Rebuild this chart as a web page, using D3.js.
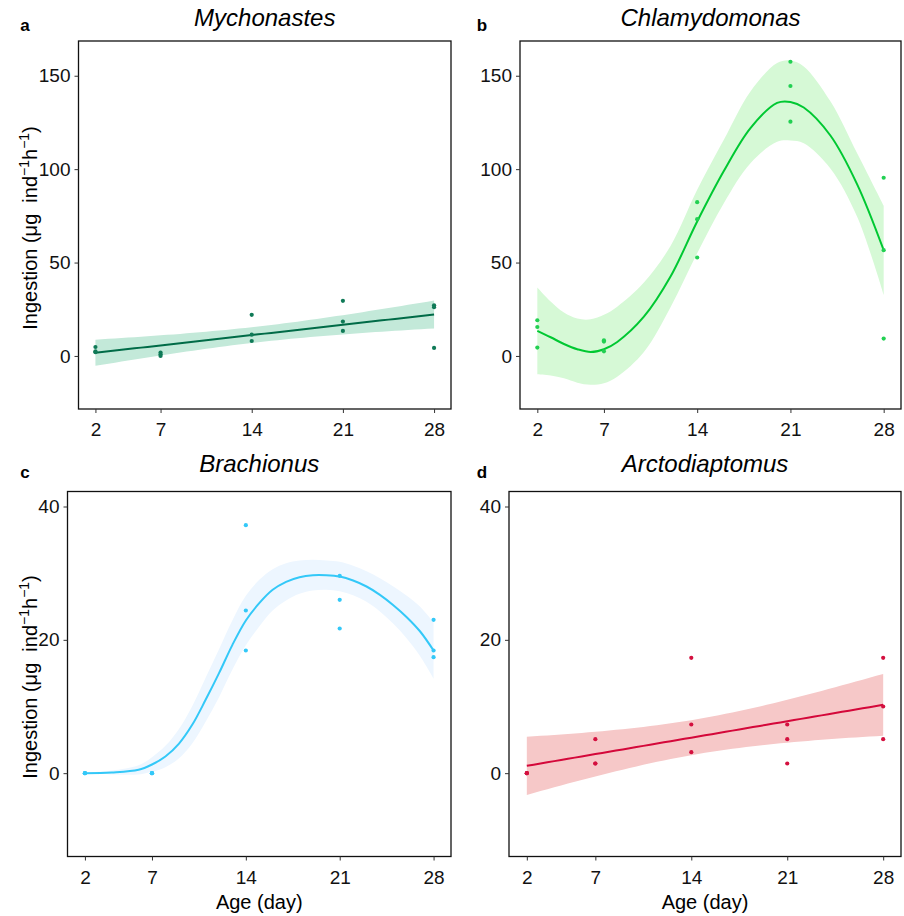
<!DOCTYPE html>
<html>
<head>
<meta charset="utf-8">
<script src="https://cdn.jsdelivr.net/npm/d3@7"></script>
<style>
  body { margin: 0; background: #fff; }
  svg text { font-family: "Liberation Sans", Arial, sans-serif; white-space: pre; }
</style>
</head>
<body>
<svg id="chart" width="904" height="916"></svg>
<script>
// ages sampled
const days = [2, 7, 14, 21, 28];
const xTicks = [2, 7, 14, 21, 28];

// replicate ingestion values per age
const mychonastes = [[4.8, 2.5, 2.0], [1.8, 0.9, 0], [22, 11.4, 8], [29.5, 18.4, 13.4], [27.1, 26.1, 4.3]];
const chlamydomonas = [[19.1, 15.5, 4.5], [8.4, 7.7, 2.5], [82.3, 73.2, 52.7], [157.5, 144.5, 125.4], [95.4, 56.6, 9.3]];
const brachionus = [[0, 0, 0], [0, 0, 0], [37.2, 24.4, 18.4], [29.6, 26, 21.7], [23, 18.4, 17.4]];
const arctodiaptomus = [[0, 0, 0], [5.1, 1.45, 1.45], [17.3, 7.3, 3.15], [7.3, 5.1, 1.45], [17.3, 10, 5.1]];

// smoother curves (loess)
const chlamyX = [2, 3, 4, 5, 6, 7, 8, 10, 12, 14, 16, 18, 20, 21, 22, 24, 26, 28];
const chlamyFit = [13.4, 10, 6.4, 3.6, 2.1, 3.6, 7.5, 21, 42.5, 72, 99, 122, 135.5, 136, 133, 118, 92, 56.6];
const chlamyLo = [-9.8, -10.5, -12, -14.3, -15.4, -14.6, -11.1, 2.1, 26.1, 55, 81.8, 103.2, 114.6, 115.3, 113.9, 100.4, 74.6, 32.7];
const chlamyHi = [36.6, 29.1, 23.2, 20, 19.6, 22, 26.4, 39.3, 58.9, 89, 115.7, 141.6, 156.8, 158.2, 155, 136.3, 108.6, 80.4];

const brachX = [2, 4, 6, 7, 8, 9, 10, 11, 12, 13, 14, 15, 16, 17, 18, 19, 20, 21, 22, 23, 24, 25, 26, 27, 28];
const brachFit = [0, 0.1, 0.5, 1.3, 2.5, 4.4, 7.25, 11, 15, 19.25, 22.9, 25.5, 27.5, 28.7, 29.4, 29.7, 29.7, 29.5, 28.9, 28, 26.75, 25.2, 23.4, 21.25, 18.4];
const brachHalf = [0.1, 0.3, 0.7, 1.1, 1.6, 2.2, 2.8, 3.3, 3.6, 3.7, 3.7, 3.5, 3.1, 2.8, 2.5, 2.3, 2.2, 2.2, 2.2, 2.3, 2.5, 2.8, 3.2, 3.7, 4.2];

const yTicksTop = [0, 50, 100, 150];
const yTicksBottom = [0, 20, 40];

const svg = d3.select("#chart");

const panels = [
  {key: "a", title: "Mychonastes", values: mychonastes, fit: "lm",
   box: [78.5, 41, 451, 409], y: [-28.4, 168.6], yt: yTicksTop, ty: 26, lx: 25, ly: 31,
   line: "#006b47", band: "#c3e9d9", pt: "#0f7a57", ylab: true, xlab: false},
  {key: "b", title: "Chlamydomonas", values: chlamydomonas, fit: "smooth",
   sx: chlamyX, sf: chlamyFit, slo: chlamyLo, shi: chlamyHi,
   box: [520, 41, 901, 409], y: [-28.4, 168.6], yt: yTicksTop, ty: 26, lx: 482, ly: 31,
   line: "#00c832", band: "#d6f9d6", pt: "#22d052", ylab: false, xlab: false},
  {key: "c", title: "Brachionus", values: brachionus, fit: "smooth",
   sx: brachX, sf: brachFit, slo: brachFit.map((v, i) => v - brachHalf[i]), shi: brachFit.map((v, i) => v + brachHalf[i]),
   box: [67.5, 491.5, 451, 856.5], y: [-12.5, 42.25], yt: yTicksBottom, ty: 472, lx: 25, ly: 478,
   line: "#33c8f8", band: "#edf6ff", pt: "#33c8f8", ylab: true, xlab: true},
  {key: "d", title: "Arctodiaptomus", values: arctodiaptomus, fit: "lm",
   box: [509, 491.5, 901, 856.5], y: [-12.5, 42.25], yt: yTicksBottom, ty: 472, lx: 482, ly: 478,
   line: "#d4083a", band: "#f6c8c8", pt: "#d4103f", ylab: false, xlab: true}
];

// ordinary least squares with 95% confidence band
function lmBand(pts) {
  const n = pts.length;
  const mx = d3.mean(pts, d => d.x), my = d3.mean(pts, d => d.y);
  const sxx = d3.sum(pts, d => (d.x - mx) ** 2);
  const b = d3.sum(pts, d => (d.x - mx) * (d.y - my)) / sxx;
  const a = my - b * mx;
  const s = Math.sqrt(d3.sum(pts, d => (d.y - a - b * d.x) ** 2) / (n - 2));
  const t = 2.160; // t(0.975, 13)
  return d3.range(2, 28.001, 0.5).map(x => {
    const f = a + b * x;
    const h = t * s * Math.sqrt(1 / n + (x - mx) ** 2 / sxx);
    return {x: x, f: f, lo: f - h, hi: f + h};
  });
}

panels.forEach(p => {
  const [x0, y0, x1, y1] = p.box;
  const x = d3.scaleLinear().domain([0.7, 29.3]).range([x0, x1]);
  const y = d3.scaleLinear().domain(p.y).range([y1, y0]);
  const g = svg.append("g").attr("id", "chart_" + p.key);

  const pts = [];
  p.values.forEach((vs, i) => vs.forEach(v => pts.push({x: days[i], y: v})));

  let curve;
  if (p.fit === "lm") {
    curve = lmBand(pts);
  } else {
    curve = p.sx.map((xv, i) => ({x: xv, f: p.sf[i], lo: p.slo[i], hi: p.shi[i]}));
  }
  const cv = p.fit === "lm" ? d3.curveLinear : d3.curveCatmullRom;

  g.append("path").datum(curve)
    .attr("fill", p.band).attr("stroke", "none")
    .attr("d", d3.area().curve(cv).x(d => x(d.x)).y0(d => y(d.lo)).y1(d => y(d.hi)));

  g.append("path").datum(curve)
    .attr("fill", "none").attr("stroke", p.line).attr("stroke-width", 2)
    .attr("d", d3.line().curve(cv).x(d => x(d.x)).y(d => y(d.f)));

  g.selectAll("circle").data(pts).enter().append("circle")
    .attr("cx", d => x(d.x)).attr("cy", d => y(d.y)).attr("r", 2.1)
    .attr("fill", p.pt);

  g.append("rect")
    .attr("x", x0).attr("y", y0).attr("width", x1 - x0).attr("height", y1 - y0)
    .attr("fill", "none").attr("stroke", "#111").attr("stroke-width", 1.3);

  const xa = g.append("g").attr("transform", "translate(0," + y1 + ")")
    .call(d3.axisBottom(x).tickValues(xTicks).tickSize(4).tickSizeOuter(0).tickPadding(10));
  const ya = g.append("g").attr("transform", "translate(" + x0 + ",0)")
    .call(d3.axisLeft(y).tickValues(p.yt).tickSize(4).tickSizeOuter(0).tickPadding(4));
  [xa, ya].forEach(ax => {
    ax.select(".domain").remove();
    ax.selectAll(".tick line").attr("stroke", "#333");
    ax.selectAll(".tick text").attr("fill", "#111").style("font-size", "19px");
  });

  g.append("text")
    .attr("x", (x0 + x1) / 2).attr("y", p.ty)
    .attr("text-anchor", "middle").style("font-size", "24px").style("font-style", "italic")
    .text(p.title);

  g.append("text")
    .attr("x", p.lx).attr("y", p.ly)
    .attr("text-anchor", "middle").style("font-size", "17px").style("font-weight", "bold")
    .text(p.key);

  if (p.ylab) {
    const t = g.append("text")
      .attr("transform", "translate(37," + ((y0 + y1) / 2 + 3) + ") rotate(-90)")
      .attr("text-anchor", "middle").style("font-size", "20px");
    t.append("tspan").text("Ingestion (μg  ind");
    t.append("tspan").attr("dy", -8).style("font-size", "14px").text("−1");
    t.append("tspan").attr("dy", 8).text("h");
    t.append("tspan").attr("dy", -8).style("font-size", "14px").text("−1");
    t.append("tspan").attr("dy", 8).text(")");
  }
  if (p.xlab) {
    g.append("text")
      .attr("x", (x0 + x1) / 2).attr("y", 909)
      .attr("text-anchor", "middle").style("font-size", "20px")
      .text("Age (day)");
  }
});
</script>
</body>
</html>
